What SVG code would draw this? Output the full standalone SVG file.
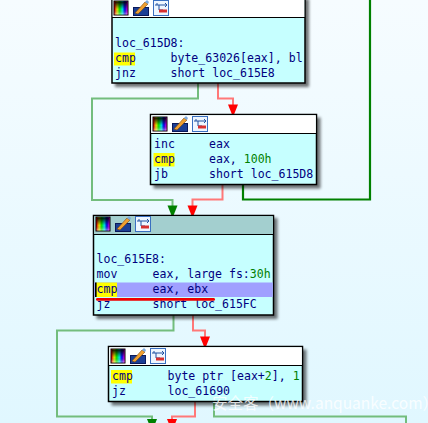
<svg xmlns="http://www.w3.org/2000/svg" xmlns:xlink="http://www.w3.org/1999/xlink" width="428" height="423" viewBox="0 0 428 423">
<style>
.box{fill:#c6ffff;stroke:#000;stroke-width:1.5}
.shadow{fill:#000;opacity:.55;filter:url(#blur)}
.head{fill:#fff}
.sep{stroke:#000;stroke-width:1.2}
.t{font-family:"DejaVu Sans Mono","Liberation Mono",monospace;font-size:11.55px;fill:#000080}
.n{fill:#008000}
.hl{fill:#ffff00}
.c{fill:none;stroke-width:2}
.pg{stroke:#73bd7d}
.pr{stroke:#ff7878}
.dg{stroke:#008000;stroke-width:2.2}
.wm{font-family:"Noto Sans CJK SC","Noto Sans",sans-serif;font-size:15.5px;fill:#fff;fill-opacity:.8}
</style>
<defs>
<linearGradient id="bg" x1="0" y1="0" x2="0" y2="1"><stop offset="0" stop-color="#f6fcff"/><stop offset="1" stop-color="#e0f7ff"/></linearGradient>
<linearGradient id="rb" x1="0" y1="0" x2="1" y2="0"><stop offset="0" stop-color="#ff0000"/><stop offset=".2" stop-color="#ffff00"/><stop offset=".4" stop-color="#00ff00"/><stop offset=".6" stop-color="#00ffff"/><stop offset=".8" stop-color="#0000ff"/><stop offset="1" stop-color="#ff00ff"/></linearGradient>
<linearGradient id="dk" x1="0" y1="0" x2="0" y2="1"><stop offset="0" stop-color="#000" stop-opacity=".95"/><stop offset=".6" stop-color="#000" stop-opacity=".1"/><stop offset="1" stop-color="#fff" stop-opacity=".5"/></linearGradient>
<filter id="blur" x="-10%" y="-10%" width="120%" height="120%"><feGaussianBlur stdDeviation="1.8"/></filter>
<marker id="ag" markerUnits="userSpaceOnUse" markerWidth="10" markerHeight="12" refX="5" refY="10" orient="auto-start-reverse" viewBox="0 0 10 12"><path d="M0 0H10L7 5.500 5.500 10H4.500L3 5.500Z" transform="rotate(-90 5 6) translate(-1 1)" fill="none"/></marker>
<path id="tip" d="M-5 -10H5L3 -5 1 0H-1L-3 -5Z"/>
<g id="icons">
<rect x="0.500" y="0.500" width="15" height="15" fill="#000"/>
<rect x="1.500" y="1.500" width="13" height="13" fill="url(#rb)"/>
<rect x="1.500" y="1.500" width="13" height="13" fill="url(#dk)"/>
<rect x="20.500" y="7.500" width="15" height="8" fill="#1c3f94" stroke="#0a1a5c"/>
<path d="M22 13 L32 2 L35 4 L25 14Z" fill="#f0a030" stroke="#7a4a10" stroke-width=".6"/>
<path d="M32 2 L34 0 L36 2 L35 4Z" fill="#7aaae0"/>
<rect x="40.500" y="0.500" width="15" height="15" fill="#eef6ff" stroke="#3a6fc0"/>
<path d="M42 5H46M46 5V10H50M46 5H54M52 3 54 5 52 7M44 3V5" fill="none" stroke="#2050a0"/>
<rect x="46" y="9.500" width="8" height="3" fill="#d83030"/>
</g>
</defs>
<rect width="428" height="423" fill="url(#bg)"/>

<g id="connectors">
<path class="c pg" d="M198 83V98.500H92V200H172.500V206"/>
<path class="c pr" d="M218 83V98.500H233V105"/>
<path class="c pr" d="M222.500 185V199.500H192.500V206"/>
<path class="c dg" d="M243 185V199.500H370V0"/>
<path class="c pg" d="M173.500 315V330.500H57V416.500H152V420"/>
<path class="c pr" d="M193 315V330.500H205V337"/>
<path class="c pr" d="M195 402V416.500H172V420"/>
<path class="c pg" d="M214 402V416.500H406V423"/>
<use href="#tip" x="233" y="114.500" fill="#ff0000"/>
<use href="#tip" x="172.500" y="215.500" fill="#008000"/>
<use href="#tip" x="192.500" y="215.500" fill="#ff0000"/>
<use href="#tip" x="205" y="346.500" fill="#ff0000"/>
<use href="#tip" x="152" y="429" fill="#008000"/>
<use href="#tip" x="172" y="429" fill="#ff0000"/>
</g>

<g id="node1">
<rect class="shadow" x="115" y="-1" width="194" height="88"/>
<rect class="box" x="112" y="-2" width="193" height="85"/>
<rect class="head" x="112.700" y="-1" width="191.600" height="18.500"/>
<line class="sep" x1="112" y1="17.500" x2="305" y2="17.500"/>
<use href="#icons" x="113" y="0"/>
<rect class="hl" x="114" y="52.500" width="21" height="13"/>
<text class="t" x="115" y="47">loc_615D8:</text>
<text class="t" x="115" y="62">cmp<tspan x="170.500">byte_63026[eax], bl</tspan></text>
<text class="t" x="115" y="77">jnz<tspan x="170.500">short loc_615E8</tspan></text>
</g>

<g id="node2">
<rect class="shadow" x="153.500" y="117.500" width="167" height="71"/>
<rect class="box" x="150.500" y="114.500" width="166" height="70"/>
<rect class="head" x="151.200" y="115.200" width="164.600" height="18"/>
<line class="sep" x1="150.500" y1="133.500" x2="316.500" y2="133.500"/>
<use href="#icons" x="152" y="116"/>
<rect class="hl" x="153.500" y="153" width="21" height="13.500"/>
<text class="t" x="154" y="148">inc<tspan x="209">eax</tspan></text>
<text class="t" x="154" y="163">cmp<tspan x="209">eax, </tspan><tspan class="n">100h</tspan></text>
<text class="t" x="154" y="178">jb<tspan x="209">short loc_615D8</tspan></text>
</g>

<g id="node3">
<rect class="shadow" x="96.500" y="218" width="181" height="101"/>
<rect class="box" x="93.500" y="215.500" width="180" height="99.500"/>
<rect x="94.200" y="216.200" width="178.600" height="18" fill="#a3cfcf"/>
<line class="sep" x1="93.500" y1="234.500" x2="273.500" y2="234.500"/>
<use href="#icons" x="95" y="216"/>
<rect x="94.200" y="282.500" width="178.600" height="14.500" fill="#a0a0ff"/>
<rect class="hl" x="96" y="282.500" width="21" height="14.500"/>
<rect x="95" y="282.500" width="1.600" height="14.500" fill="#000"/>
<text class="t" x="96.500" y="263">loc_615E8:</text>
<text class="t" x="96.500" y="278">mov<tspan x="152.500">eax, large fs:</tspan><tspan class="n">30h</tspan></text>
<text class="t" x="96.500" y="293">cmp<tspan x="152.500">eax, ebx</tspan></text>
<text class="t" x="96.500" y="308">jz<tspan x="152.500">short loc_615FC</tspan></text>
<rect x="96" y="298" width="119" height="2.800" rx="1.400" fill="#f00000"/>
</g>

<g id="node4">
<rect class="shadow" x="111.500" y="349.500" width="195" height="56"/>
<rect class="box" x="108.500" y="346.500" width="194" height="55"/>
<rect class="head" x="109.200" y="347.200" width="192.600" height="18.300"/>
<line class="sep" x1="108.500" y1="365.500" x2="302.500" y2="365.500"/>
<use href="#icons" x="110" y="348"/>
<rect class="hl" x="111" y="370" width="21" height="13.500"/>
<text class="t" x="112" y="380">cmp<tspan x="167.500">byte ptr [eax+</tspan><tspan class="n">2</tspan><tspan>], </tspan><tspan class="n">1</tspan></text>
<text class="t" x="112" y="395">jz<tspan x="167.500">loc_61690</tspan></text>
</g>

<text class="wm" x="212" y="409">安全客（www.anquanke.com）</text>
</svg>
